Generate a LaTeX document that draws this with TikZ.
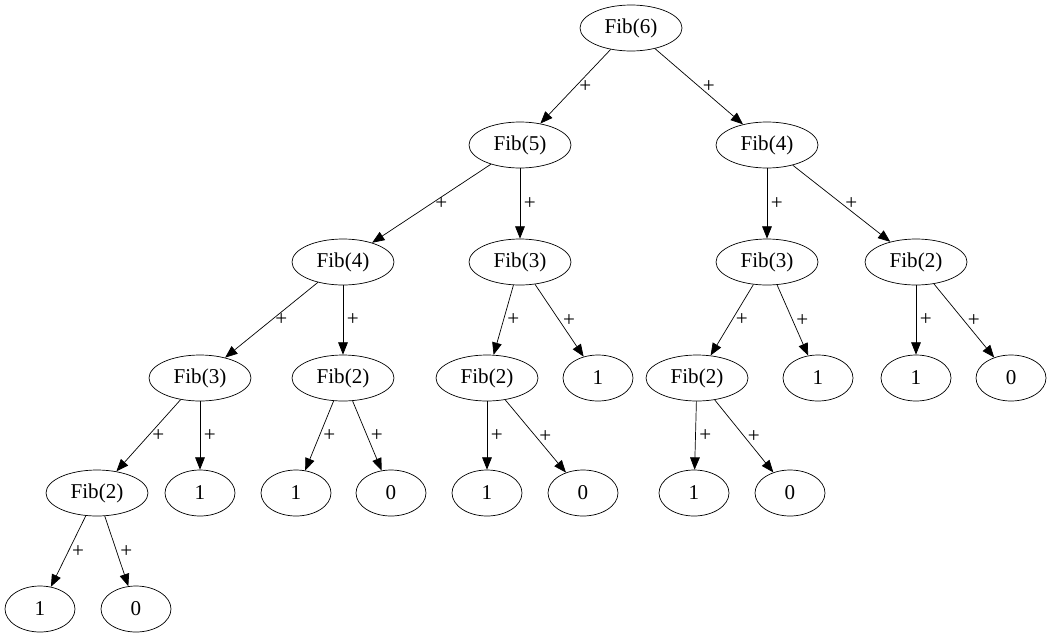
\documentclass[tikz,border=0pt]{standalone}
\usepackage{fontspec}
\setmainfont{Liberation Serif}
\usetikzlibrary{shapes.geometric,arrows.meta}
\tikzset{
  fib/.style={ellipse, draw, minimum width=2.04cm, minimum height=0.92cm, inner sep=0pt, font=\large},
  leaf/.style={ellipse, draw, minimum width=1.4cm, minimum height=0.92cm, inner sep=0pt, font=\large},
  add/.style={-{Triangle[length=7pt,width=5.5pt]}},
  plus/.style={right, pos=0.5, inner sep=2pt, font=\large}
}
\begin{document}
\begin{tikzpicture}[x=0.02cm, y=-0.02cm]
  \useasboundingbox (0,0) rectangle (1053,639);

  % top
  \node[fib] (f6) at (631,28) {Fib(6)};
  \node[fib] (f5) at (520,145) {Fib(5)};
  \node[fib] (f4b) at (767,145) {Fib(4)};

  % level 3
  \node[fib] (f4a) at (343,262) {Fib(4)};
  \node[fib] (f3b) at (520,262) {Fib(3)};
  \node[fib] (f3c) at (767,262) {Fib(3)};
  \node[fib] (f2e) at (916,262) {Fib(2)};

  % level 4
  \node[fib] (f3a) at (200,378) {Fib(3)};
  \node[fib] (f2b) at (343,378) {Fib(2)};
  \node[fib] (f2c) at (487,378) {Fib(2)};
  \node[leaf] (l3b) at (598,378) {1};
  \node[fib] (f2d) at (697,378) {Fib(2)};
  \node[leaf] (l3c) at (818,378) {1};
  \node[leaf] (l2e) at (916,378) {1};
  \node[leaf] (z2e) at (1011,378) {0};

  % level 5
  \node[fib] (f2a) at (97,493) {Fib(2)};
  \node[leaf] (l3a) at (200,493) {1};
  \node[leaf] (l2b) at (296,493) {1};
  \node[leaf] (z2b) at (391,493) {0};
  \node[leaf] (l2c) at (487,493) {1};
  \node[leaf] (z2c) at (583,493) {0};
  \node[leaf] (l2d) at (694,493) {1};
  \node[leaf] (z2d) at (790,493) {0};

  % level 6
  \node[leaf] (l2a) at (40,609) {1};
  \node[leaf] (z2a) at (136,609) {0};

  % edges
  \foreach \a/\b in {f6/f5, f6/f4b, f5/f4a, f5/f3b, f4b/f3c, f4b/f2e,
                     f4a/f3a, f4a/f2b, f3b/f2c, f3b/l3b, f3c/f2d, f3c/l3c,
                     f2e/l2e, f2e/z2e, f3a/f2a, f3a/l3a, f2b/l2b, f2b/z2b,
                     f2c/l2c, f2c/z2c, f2d/l2d, f2d/z2d, f2a/l2a, f2a/z2a}
    \draw[add] (\a) -- node[plus] {+} (\b);

\end{tikzpicture}
\end{document}
